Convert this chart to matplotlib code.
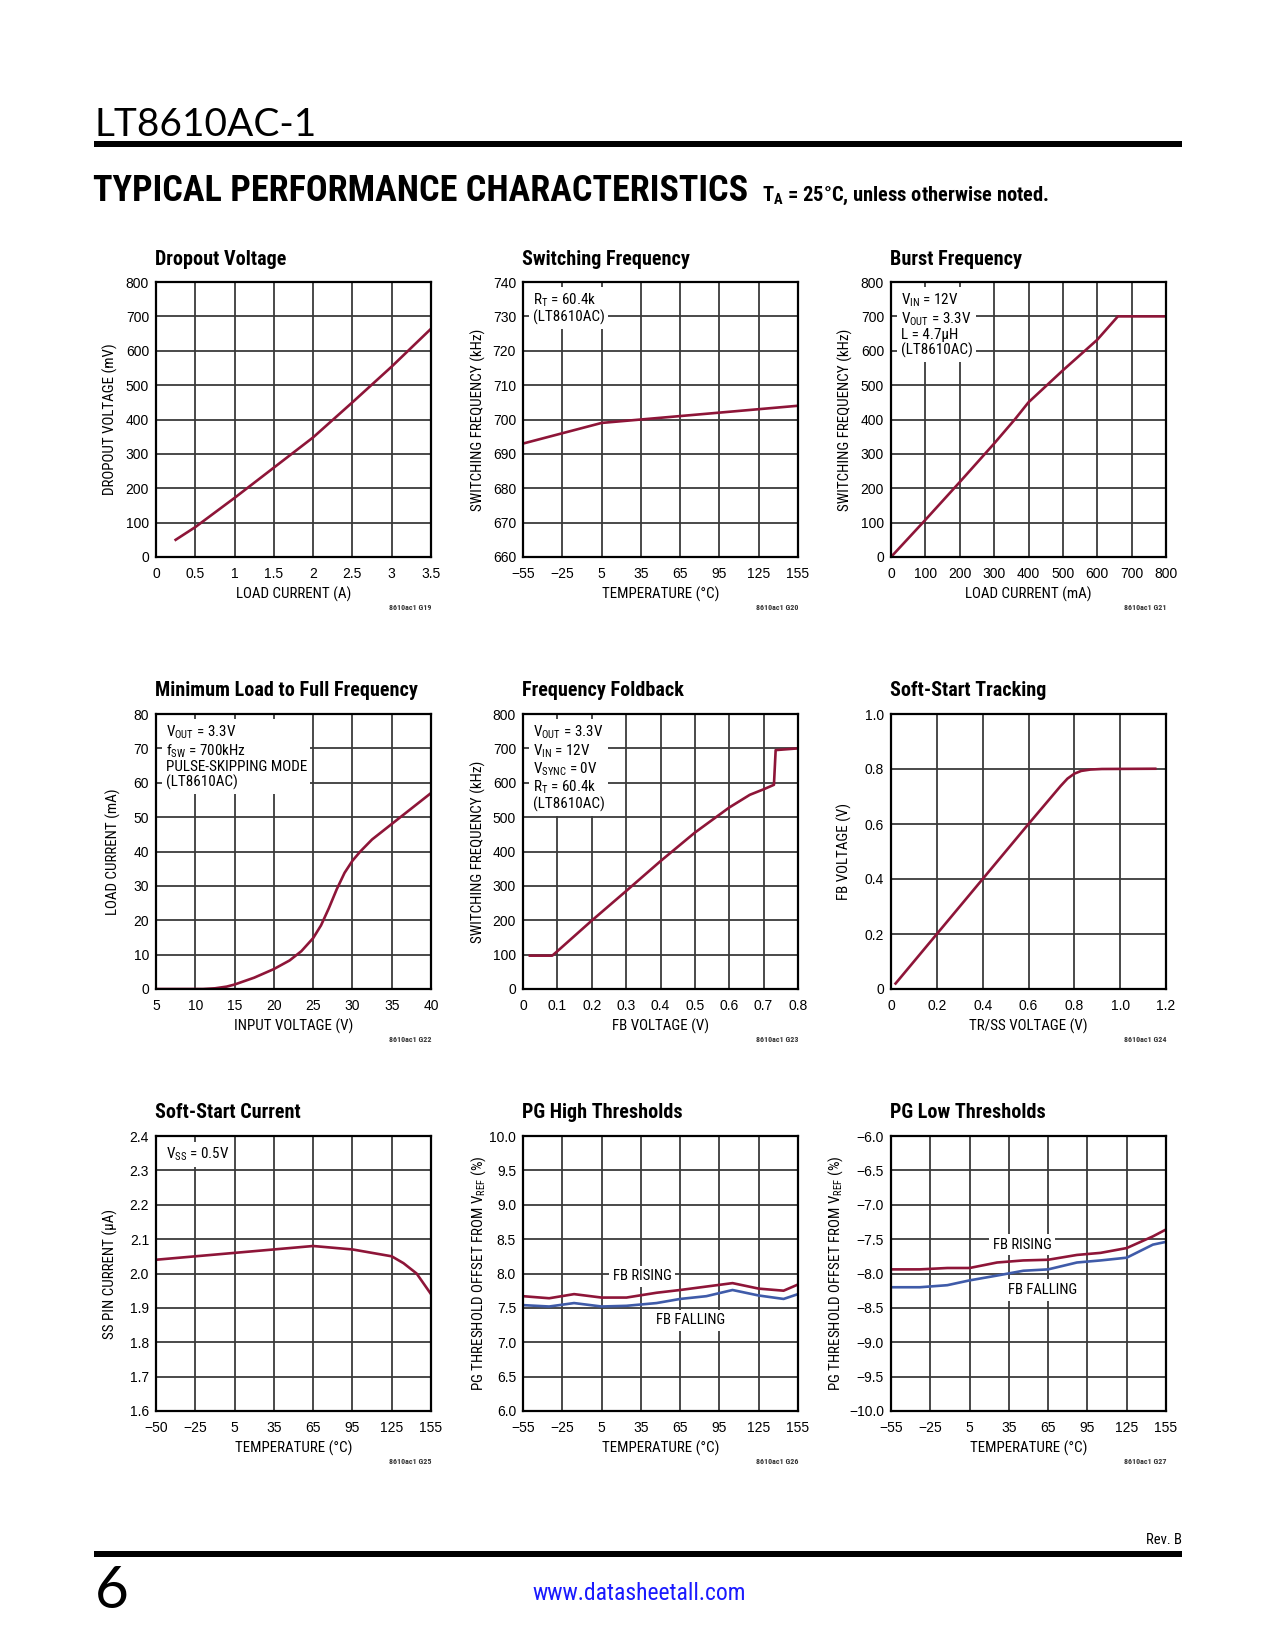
import matplotlib
matplotlib.use('Agg')
import matplotlib.pyplot as plt
from matplotlib import font_manager as fm

# ---- data ----
drop_i = [0.25, 0.5, 1.0, 1.5, 2.0, 2.5, 3.0, 3.5]
drop_v = [50, 87, 172, 260, 348, 450, 554, 664]

sw_temp = [-55, 5, 35, 65, 95, 125, 155]
sw_freq = [693, 699, 700, 701, 702, 703, 704]

burst_i = [0, 100, 200, 300, 360, 400, 500, 600, 660, 800]
burst_f = [0, 108, 218, 330, 400, 450, 543, 632, 700, 700]

minload_vin = [5, 8, 11, 12.5, 14, 15, 17.5, 20, 22, 23.5, 25, 26, 27, 28, 29, 30, 31, 32.5, 35, 37.5, 40]
minload_i = [0, 0, 0, 0.2, 0.7, 1.3, 3.3, 5.8, 8.3, 11.0, 14.8, 18.5, 23.5, 29.0, 33.8, 37.3, 40.0, 43.5, 48.0, 52.5, 57.0]

fold_vfb = [0.02, 0.085, 0.1, 0.2, 0.3, 0.4, 0.5, 0.6, 0.66, 0.7, 0.73, 0.735, 0.8]
fold_f = [97, 97, 110, 199, 285, 372, 455, 528, 565, 581, 594, 695, 700]

track_ss = [0.02, 0.2, 0.4, 0.6, 0.74, 0.77, 0.80, 0.83, 0.87, 0.92, 1.153]
track_fb = [0.02, 0.2, 0.4, 0.6, 0.738, 0.765, 0.783, 0.793, 0.798, 0.8, 0.801]

ss_temp = [-55, -25, 5, 35, 65, 95, 125, 134, 144, 155]
ss_i = [2.04, 2.05, 2.06, 2.07, 2.08, 2.07, 2.05, 2.03, 2.00, 1.94]

pgh_temp = [-55, -35, -16, 5, 24, 47, 65, 85, 105, 125, 144, 155]
pgh_rise = [7.67, 7.64, 7.70, 7.65, 7.65, 7.72, 7.76, 7.81, 7.86, 7.78, 7.75, 7.84]
pgh_fall = [7.54, 7.52, 7.57, 7.52, 7.53, 7.57, 7.63, 7.67, 7.76, 7.68, 7.63, 7.70]

pgl_temp = [-55, -33, -12, 5, 26, 46, 65, 87, 105, 125, 145, 155]
pgl_rise = [-7.94, -7.94, -7.92, -7.92, -7.84, -7.81, -7.80, -7.73, -7.70, -7.63, -7.46, -7.36]
pgl_fall = [-8.20, -8.20, -8.17, -8.10, -8.03, -7.96, -7.94, -7.84, -7.81, -7.77, -7.58, -7.54]

temp_ticks = [-55, -25, 5, 35, 65, 95, 125, 155]
temp_labels = ['\u221255', '\u221225', '5', '35', '65', '95', '125', '155']
ss_temp_labels = ['\u221250', '\u221225', '5', '35', '65', '95', '125', '155']

# ---- fonts ----
names = {f.name for f in fm.fontManager.ttflist}
REG = 'Liberation Sans'
cands = ['Roboto Condensed', 'Liberation Sans Narrow', 'Arial Narrow', 'Archivo Narrow']
NARROW = next((c for c in cands if c in names), REG)
K = 1.0 if NARROW != REG else 0.82   # shrink when no narrow face is around
THIN = 'Lato' if 'Lato' in names else 'DejaVu Sans'
plt.rcParams['font.family'] = [NARROW, 'DejaVu Sans']
plt.rcParams['mathtext.fontset'] = 'custom'
plt.rcParams['mathtext.rm'] = NARROW
plt.rcParams['mathtext.bf'] = NARROW + ':bold'

RED = '#8e1538'
BLUE = '#3f5ba9'
GRID = '#3a3a3a'

W, H = 1275, 1650
fig = plt.figure(figsize=(W / 100, H / 100), dpi=100)


def px(v):
    return v * 0.72


def panel(left, top, title, xlim, xt, xl, ylim, yt, yl, xlabel, ylabel, tag, ylab_x=-0.167):
    ax = fig.add_axes([left / W, 1 - (top + 275) / H, 275 / W, 275 / H])
    ax.set_xlim(*xlim)
    ax.set_ylim(*ylim)
    ax.set_xticks(xt)
    ax.set_xticklabels(xl, fontfamily=REG, fontsize=10)
    ax.set_yticks(yt)
    ax.set_yticklabels(yl, fontfamily=REG, fontsize=10)
    ax.tick_params(length=0, pad=5)
    ax.tick_params(axis='x', pad=7)
    ax.grid(True, color=GRID, lw=1.3)
    ax.set_axisbelow(True)
    for s in ax.spines.values():
        s.set_linewidth(1.6)
        s.set_color('black')
    ax.set_xlabel(xlabel, fontsize=10.8 * K)
    ax.set_ylabel(ylabel, fontsize=10.8 * K)
    ax.xaxis.set_label_coords(0.5, -37 / 275)
    ax.xaxis.label.set_va('center')
    ax.yaxis.set_label_coords(ylab_x, 0.5)
    ax.yaxis.label.set_va('center')
    ax.annotate(title, xy=(0, 1), xycoords='axes fraction', xytext=(-1, px(23)),
                textcoords='offset points', va='center', ha='left',
                fontsize=14.5 * K, fontweight='bold')
    ax.annotate(tag, xy=(1, 0), xycoords='axes fraction', xytext=(0, -px(51)),
                textcoords='offset points', va='center', ha='right',
                fontsize=5.8, fontweight='bold', color='#333333')
    return ax


def note(ax, txt):
    ax.text(0.035, 0.965, txt, transform=ax.transAxes, va='top', ha='left',
            fontsize=10.9 * K, linespacing=1.05,
            bbox=dict(facecolor='white', edgecolor='none', pad=2.5))


def tag_label(ax, x, y, txt):
    ax.text(x, y, txt, ha='center', va='center', fontsize=10.6 * K,
            bbox=dict(facecolor='white', edgecolor='none', pad=2.5))


# row 1
ax = panel(156, 282, 'Dropout Voltage', (0, 3.5), [0, 0.5, 1, 1.5, 2, 2.5, 3, 3.5],
           ['0', '0.5', '1', '1.5', '2', '2.5', '3', '3.5'], (0, 800), range(0, 801, 100),
           [str(v) for v in range(0, 801, 100)], 'LOAD CURRENT (A)', 'DROPOUT VOLTAGE (mV)',
           '8610ac1 G19')
ax.plot(drop_i, drop_v, color=RED, lw=1.9)

ax = panel(523, 282, 'Switching Frequency', (-55, 155), temp_ticks, temp_labels,
           (660, 740), range(660, 741, 10), [str(v) for v in range(660, 741, 10)],
           'TEMPERATURE (\u00b0C)', 'SWITCHING FREQUENCY (kHz)', '8610ac1 G20', ylab_x=-0.164)
ax.plot(sw_temp, sw_freq, color=RED, lw=1.9)
note(ax, 'R$_\\mathrm{T}$ = 60.4k\n(LT8610AC)')

ax = panel(891, 282, 'Burst Frequency', (0, 800), range(0, 801, 100),
           [str(v) for v in range(0, 801, 100)], (0, 800), range(0, 801, 100),
           [str(v) for v in range(0, 801, 100)], 'LOAD CURRENT (mA)',
           'SWITCHING FREQUENCY (kHz)', '8610ac1 G21')
ax.plot(burst_i, burst_f, color=RED, lw=1.9)
note(ax, 'V$_\\mathrm{IN}$ = 12V\nV$_\\mathrm{OUT}$ = 3.3V\nL = 4.7\u00b5H\n(LT8610AC)')

# row 2
ax = panel(156, 714, 'Minimum Load to Full Frequency', (5, 40), range(5, 41, 5),
           [str(v) for v in range(5, 41, 5)], (0, 80), range(0, 81, 10),
           [str(v) for v in range(0, 81, 10)], 'INPUT VOLTAGE (V)', 'LOAD CURRENT (mA)',
           '8610ac1 G22', ylab_x=-0.156)
ax.plot(minload_vin, minload_i, color=RED, lw=1.9)
note(ax, 'V$_\\mathrm{OUT}$ = 3.3V\nf$_\\mathrm{SW}$ = 700kHz\nPULSE-SKIPPING MODE\n(LT8610AC)')

fb_t = [0, 0.1, 0.2, 0.3, 0.4, 0.5, 0.6, 0.7, 0.8]
ax = panel(523, 714, 'Frequency Foldback', (0, 0.8), fb_t,
           ['0', '0.1', '0.2', '0.3', '0.4', '0.5', '0.6', '0.7', '0.8'], (0, 800),
           range(0, 801, 100), [str(v) for v in range(0, 801, 100)], 'FB VOLTAGE (V)',
           'SWITCHING FREQUENCY (kHz)', '8610ac1 G23', ylab_x=-0.164)
ax.plot(fold_vfb, fold_f, color=RED, lw=1.9)
note(ax, 'V$_\\mathrm{OUT}$ = 3.3V\nV$_\\mathrm{IN}$ = 12V\nV$_\\mathrm{SYNC}$ = 0V\n'
         'R$_\\mathrm{T}$ = 60.4k\n(LT8610AC)')

ax = panel(891, 714, 'Soft-Start Tracking', (0, 1.2), [0, 0.2, 0.4, 0.6, 0.8, 1.0, 1.2],
           ['0', '0.2', '0.4', '0.6', '0.8', '1.0', '1.2'], (0, 1.0),
           [0, 0.2, 0.4, 0.6, 0.8, 1.0], ['0', '0.2', '0.4', '0.6', '0.8', '1.0'],
           'TR/SS VOLTAGE (V)', 'FB VOLTAGE (V)', '8610ac1 G24', ylab_x=-0.171)
ax.plot(track_ss, track_fb, color=RED, lw=1.9)

# row 3
ss_y = [1.6, 1.7, 1.8, 1.9, 2.0, 2.1, 2.2, 2.3, 2.4]
ax = panel(156, 1136, 'Soft-Start Current', (-55, 155), temp_ticks, ss_temp_labels,
           (1.6, 2.4), ss_y, ['%.1f' % v for v in ss_y], 'TEMPERATURE (\u00b0C)',
           'SS PIN CURRENT (\u00b5A)', '8610ac1 G25')
ax.plot(ss_temp, ss_i, color=RED, lw=1.9)
note(ax, 'V$_\\mathrm{SS}$ = 0.5V')

pgh_y = [6.0, 6.5, 7.0, 7.5, 8.0, 8.5, 9.0, 9.5, 10.0]
ax = panel(523, 1136, 'PG High Thresholds', (-55, 155), temp_ticks, temp_labels,
           (6.0, 10.0), pgh_y, ['%.1f' % v for v in pgh_y], 'TEMPERATURE (\u00b0C)',
           'PG THRESHOLD OFFSET FROM V$_\\mathrm{REF}$ (%)', '8610ac1 G26', ylab_x=-0.16)
ax.plot(pgh_temp, pgh_rise, color=RED, lw=1.9)
ax.plot(pgh_temp, pgh_fall, color=BLUE, lw=1.9)
tag_label(ax, 36, 7.96, 'FB RISING')
tag_label(ax, 73, 7.32, 'FB FALLING')

pgl_y = [-10.0, -9.5, -9.0, -8.5, -8.0, -7.5, -7.0, -6.5, -6.0]
ax = panel(891, 1136, 'PG Low Thresholds', (-55, 155), temp_ticks, temp_labels,
           (-10.0, -6.0), pgl_y, [('%.1f' % v).replace('-', '\u2212') for v in pgl_y],
           'TEMPERATURE (\u00b0C)', 'PG THRESHOLD OFFSET FROM V$_\\mathrm{REF}$ (%)',
           '8610ac1 G27', ylab_x=-0.2)
ax.plot(pgl_temp, pgl_rise, color=RED, lw=1.9)
ax.plot(pgl_temp, pgl_fall, color=BLUE, lw=1.9)
tag_label(ax, 45, -7.58, 'FB RISING')
tag_label(ax, 61, -8.24, 'FB FALLING')

# ---- page header / footer ----
fig.text(94 / W, 1 - 136 / H, 'LT8610AC-1', fontfamily=THIN, fontweight='normal',
         fontsize=28, va='baseline', ha='left')
fig.add_artist(plt.Rectangle((94 / W, 1 - 147 / H), (1182 - 94) / W, 6 / H,
                             transform=fig.transFigure, color='black', lw=0))
fig.text(93 / W, 1 - 201 / H, 'TYPICAL PERFORMANCE CHARACTERISTICS', fontsize=26 * K,
         fontweight='heavy', va='baseline', ha='left')
fig.text(762 / W, 1 - 201 / H, 'T$_\\mathbf{A}$ = 25\u00b0C, unless otherwise noted.',
         fontsize=14.8 * K, fontweight='bold', va='baseline', ha='left')

fig.text(1182 / W, 1 - 1540 / H, 'Rev. B', fontsize=10.5 * K, ha='right', va='center')
fig.add_artist(plt.Rectangle((94 / W, 1 - 1557 / H), (1182 - 94) / W, 6 / H,
                             transform=fig.transFigure, color='black', lw=0))
fig.text(95 / W, 1 - 1608 / H, '6', fontfamily=THIN, fontweight='normal', fontsize=42,
         va='baseline', ha='left')
fig.text(639 / W, 1 - 1593 / H, 'www.datasheetall.com', fontsize=17 * K, color='#1a1aff',
         ha='center', va='center')

fig.savefig('out.png', dpi=100)
